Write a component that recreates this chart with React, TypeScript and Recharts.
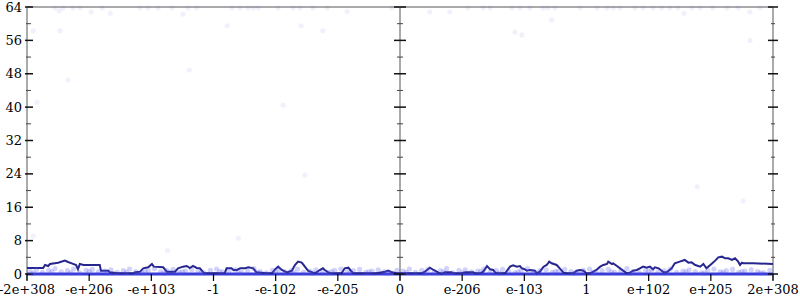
import React from 'react';
import { ComposedChart, Line, Scatter, XAxis, YAxis, ReferenceLine } from 'recharts';

const xTicks = [-6, -5, -4, -3, -2, -1, 0, 1, 2, 3, 4, 5, 6];
const xLabels = ['-2e+308', '-e+206', '-e+103', '-1', '-e-102', '-e-205', '0', 'e-206', 'e-103', '1', 'e+102', 'e+205', '2e+308'];
const yTicks = [0, 8, 16, 24, 32, 40, 48, 56, 64];
const yMinorTicks = [4, 12, 20, 28, 36, 44, 52, 60];
const axisPositions = [-6, 0, 6];

const trend: [number, number][] = [
  [-6.0, 1.44], [-5.74, 1.44], [-5.71, 2.16], [-5.66, 1.92], [-5.63, 2.4], [-5.5, 2.72], [-5.39, 3.2], [-5.34, 2.88],
  [-5.28, 2.56], [-5.21, 2.16], [-5.18, 1.12], [-5.15, 2.4], [-5.09, 2.16], [-4.83, 2.16], [-4.81, 0.8], [-4.69, 0.8],
  [-4.67, 0.4], [-4.53, 0.16], [-4.29, 0.16], [-4.26, 0.4], [-4.18, 0.56], [-4.13, 1.36], [-4.05, 1.6], [-3.99, 2.4],
  [-3.96, 1.76], [-3.81, 1.6], [-3.75, 0.56], [-3.62, 0.56], [-3.57, 1.36], [-3.49, 1.76], [-3.43, 1.92], [-3.38, 1.44],
  [-3.33, 1.92], [-3.27, 1.44], [-3.22, 1.36], [-3.15, 0.16], [-2.82, 0.16], [-2.79, 1.36], [-2.71, 1.36], [-2.68, 0.96],
  [-2.62, 0.96], [-2.57, 1.36], [-2.49, 1.36], [-2.44, 1.6], [-2.36, 1.36], [-2.31, 0.4], [-2.14, 0.16], [-2.06, 0.16],
  [-2.01, 1.12], [-1.96, 1.76], [-1.9, 0.96], [-1.82, 0.4], [-1.74, 0.8], [-1.69, 2.16], [-1.64, 2.96], [-1.58, 2.72],
  [-1.53, 1.76], [-1.48, 0.8], [-1.37, 0.16], [-1.29, 0.96], [-1.24, 1.36], [-1.21, 0.96], [-1.13, 0.16], [-0.94, 0.16],
  [-0.89, 1.36], [-0.83, 1.52], [-0.8, 0.96], [-0.75, 0.16], [-0.38, 0.16], [-0.24, 0.56], [-0.19, 0.8], [-0.13, 0.4],
  [-0.05, 0.16], [0, 0.16], [0.35, 0.16], [0.4, 0.56], [0.48, 1.52], [0.54, 0.96], [0.62, 0.32], [0.67, 0.05],
  [0.72, 0.4], [0.83, 0.4], [0.86, 0.16], [0.99, 0.16], [1.05, 0.4], [1.18, 0.4], [1.21, 0.16], [1.29, 0.16],
  [1.34, 0.56], [1.4, 1.92], [1.45, 1.12], [1.5, 0.96], [1.53, 0.4], [1.58, 0.16], [1.69, 0.16], [1.77, 1.76],
  [1.82, 2.08], [1.88, 1.76], [1.93, 1.92], [1.96, 1.36], [2.01, 1.12], [2.04, 0.8], [2.09, 0.96], [2.17, 0.8],
  [2.2, 0.16], [2.25, 0.56], [2.31, 1.76], [2.36, 2.16], [2.4, 2.96], [2.44, 2.56], [2.52, 2.16], [2.57, 1.36],
  [2.63, 0.32], [2.68, 0.16], [2.79, 0.16], [2.84, 0.8], [2.9, 0.96], [2.95, 0.8], [3.0, 0.16], [3.06, 0.16],
  [3.11, 0.56], [3.16, 0.96], [3.22, 1.76], [3.27, 2.16], [3.33, 2.4], [3.35, 2.96], [3.41, 2.4], [3.43, 2.56],
  [3.49, 1.92], [3.54, 1.36], [3.59, 0.8], [3.65, 0.16], [3.7, 0.32], [3.75, 0.8], [3.81, 0.96], [3.86, 1.36],
  [3.91, 1.76], [3.97, 1.52], [4.02, 1.76], [4.07, 1.12], [4.1, 1.6], [4.16, 1.36], [4.24, 0.4], [4.29, 0.4],
  [4.37, 1.36], [4.42, 2.56], [4.5, 2.96], [4.58, 3.36], [4.64, 2.72], [4.69, 2.8], [4.75, 2.16], [4.83, 1.76],
  [4.88, 2.4], [4.93, 1.36], [5.01, 2.4], [5.07, 3.2], [5.12, 4.0], [5.18, 4.16], [5.23, 3.76], [5.28, 3.76],
  [5.34, 3.36], [5.39, 3.76], [5.44, 2.96], [5.47, 2.16], [5.5, 2.72], [5.52, 2.56], [5.68, 2.56], [6.0, 2.4],
];

const bandPoints: [number, number][] = [
  [-5.95, 0.6], [-5.85, 1.1], [-5.75, 0.4], [-5.65, 0.9], [-5.55, 1.3], [-5.45, 0.5], [-5.35, 0.8], [-5.25, 1.2], [-5.15, 0.3], [-5.05, 0.9],
  [-4.95, 1.1], [-4.85, 0.5], [-4.75, 0.7], [-4.65, 1.0], [-4.55, 0.4], [-4.45, 0.8], [-4.35, 1.2], [-4.25, 0.6], [-4.15, 0.3], [-4.05, 0.9],
  [-3.95, 1.3], [-3.85, 0.5], [-3.75, 0.8], [-3.65, 1.1], [-3.55, 0.4], [-3.45, 0.7], [-3.35, 1.0], [-3.25, 0.6], [-3.15, 0.3], [-3.05, 0.9],
  [-2.95, 1.2], [-2.85, 0.5], [-2.75, 0.8], [-2.65, 1.0], [-2.55, 0.4], [-2.45, 0.7], [-2.35, 1.3], [-2.25, 0.6], [-2.15, 0.3], [-2.05, 0.9],
  [-1.95, 1.1], [-1.85, 0.5], [-1.75, 0.8], [-1.65, 1.2], [-1.55, 0.4], [-1.45, 0.7], [-1.35, 1.0], [-1.25, 0.6], [-1.15, 0.3], [-1.05, 0.9],
  [-0.95, 1.2], [-0.85, 0.5], [-0.75, 0.8], [-0.65, 1.1], [-0.55, 0.4], [-0.45, 0.7], [-0.35, 1.0], [-0.25, 0.6], [-0.15, 0.3], [-0.05, 0.9],
  [0.05, 0.7], [0.15, 1.2], [0.25, 0.4], [0.35, 0.9], [0.45, 1.1], [0.55, 0.5], [0.65, 0.8], [0.75, 1.3], [0.85, 0.3], [0.95, 0.9],
  [1.05, 1.0], [1.15, 0.5], [1.25, 0.7], [1.35, 1.2], [1.45, 0.4], [1.55, 0.8], [1.65, 1.1], [1.75, 0.6], [1.85, 0.3], [1.95, 0.9],
  [2.05, 1.3], [2.15, 0.5], [2.25, 0.8], [2.35, 1.0], [2.45, 0.4], [2.55, 0.7], [2.65, 1.1], [2.75, 0.6], [2.85, 0.3], [2.95, 0.9],
  [3.05, 1.2], [3.15, 0.5], [3.25, 0.8], [3.35, 1.1], [3.45, 0.4], [3.55, 0.7], [3.65, 1.3], [3.75, 0.6], [3.85, 0.3], [3.95, 0.9],
  [4.05, 1.1], [4.15, 0.5], [4.25, 0.8], [4.35, 1.2], [4.45, 0.4], [4.55, 0.7], [4.65, 1.0], [4.75, 0.6], [4.85, 0.3], [4.95, 0.9],
  [5.05, 1.2], [5.15, 0.5], [5.25, 0.8], [5.35, 1.1], [5.45, 0.4], [5.55, 0.7], [5.65, 1.0], [5.75, 0.6], [5.85, 0.3], [5.95, 0.9],
  [-5.9, 0.2], [-5.6, 0.5], [-5.3, 0.3], [-5.0, 0.6], [-4.7, 0.2], [-4.4, 0.4], [-4.1, 0.6], [-3.8, 0.2], [-3.5, 0.5], [-3.2, 0.3],
  [-2.9, 0.6], [-2.6, 0.2], [-2.3, 0.4], [-2.0, 0.5], [-1.7, 0.3], [-1.4, 0.2], [-1.1, 0.6], [-0.8, 0.3], [-0.5, 0.5], [-0.2, 0.2],
  [0.1, 0.4], [0.4, 0.2], [0.7, 0.5], [1.0, 0.3], [1.3, 0.6], [1.6, 0.2], [1.9, 0.5], [2.2, 0.3], [2.5, 0.6], [2.8, 0.2],
  [3.1, 0.4], [3.4, 0.5], [3.7, 0.2], [4.0, 0.6], [4.3, 0.3], [4.6, 0.5], [4.9, 0.2], [5.2, 0.4], [5.5, 0.6], [5.8, 0.3],
];

const zeroRun: [number, number][] = [[-6, 0], [6, 0]];

const sparsePoints: [number, number][] = [
  [-5.9, 58.3], [-5.47, 58.3], [-5.34, 46.5], [-5.84, 41.2], [-3.39, 48.9], [-5.55, 63.8], [-5.48, 63.1], [-5.42, 63.8],
  [-5.26, 63.8], [-5.15, 63.8], [-4.97, 62.8], [-4.79, 63.8], [-4.66, 62.5], [-4.18, 63.8], [-4.05, 63.8], [-3.89, 63.8],
  [-3.67, 63.8], [-3.49, 62.3], [-3.41, 63.8], [-3.27, 63.8], [-2.78, 59.5], [-2.7, 63.8], [-2.57, 63.8], [-2.44, 63.8],
  [-2.36, 63.8], [-2.28, 63.8], [-1.96, 63.8], [-1.72, 63.8], [-1.61, 63.8], [-1.59, 59.5], [-1.4, 63.8], [-1.24, 58.3],
  [-1.17, 63.8], [-0.85, 62.9], [-0.13, 63.8], [0.48, 62.8], [0.8, 62.8], [1.09, 63.8], [1.34, 63.8], [1.45, 63.8],
  [1.8, 63.8], [1.85, 58.0], [1.93, 63.8], [1.96, 57.3], [2.09, 63.8], [2.3, 63.8], [2.38, 63.8], [2.44, 60.9],
  [2.49, 63.8], [2.9, 63.8], [3.17, 63.8], [3.33, 63.8], [3.43, 63.8], [3.54, 63.8], [3.78, 63.8], [3.91, 63.8],
  [4.07, 63.8], [4.21, 63.8], [4.34, 63.8], [4.47, 63.8], [4.57, 62.5], [4.7, 63.8], [4.83, 63.8], [5.03, 63.8],
  [5.26, 63.8], [5.44, 63.8], [5.63, 62.8], [5.63, 56.0], [5.79, 63.8], [-1.88, 40.5], [-2.6, 8.6], [-5.9, 9.1],
  [-3.74, 5.6], [5.52, 17.5], [4.78, 20.9], [-1.53, 23.7],
];

const toPoints = (arr: [number, number][]) => arr.map(([x, y]) => ({ x, y }));

const FONT = { fontFamily: 'DejaVu Serif', fontSize: 13, fill: '#000' };

const makeTickShape = (major: boolean) => (props: any) => {
  const x1 = Math.min(props.x1, props.x2);
  const x2 = Math.max(props.x1, props.x2);
  const y = props.y1;
  const mid = (x1 + x2) / 2;
  const segs = major
    ? [[x1 - 2, x1 + 6], [mid - 6, mid + 6], [x2 - 5, x2 + 5]]
    : [[x1 - 1, x1 + 4], [mid - 3, mid + 3], [x2 - 2, x2 + 2]];
  return (
    <g>
      {segs.map(([a, b], i) => (
        <line key={i} x1={a} x2={b} y1={y} y2={y} stroke={major ? '#111' : '#444'} strokeWidth={major ? 1.5 : 1} />
      ))}
    </g>
  );
};

const axisShape = (props: any) => {
  const top = Math.min(props.y1, props.y2);
  const bottom = Math.max(props.y1, props.y2);
  return <line x1={props.x1} x2={props.x2} y1={top} y2={bottom + 6} stroke="#aaaaaa" strokeWidth={2} />;
};

const dot = (fill: string) => (props: any) => <circle cx={props.cx} cy={props.cy} r={2.6} fill={fill} />;

export default function App() {
  return (
    <div style={{ position: 'absolute', left: 0, top: 0, width: 800, height: 300, fontFamily: 'DejaVu Serif' }}>
      <ComposedChart width={800} height={300} margin={{ top: 7, right: 27, bottom: 0, left: 0 }} style={{ fontFamily: 'DejaVu Serif' }}>
        <XAxis
          dataKey="x"
          type="number"
          domain={[-6, 6]}
          ticks={xTicks}
          interval={0}
          tickFormatter={(v: number) => xLabels[xTicks.indexOf(v)]}
          axisLine={false}
          tickLine={{ stroke: '#000', strokeWidth: 1.2 }}
          tickSize={7}
          tickMargin={4}
          height={26}
          tick={FONT}
        />
        <YAxis
          dataKey="y"
          type="number"
          domain={[0, 64]}
          ticks={yTicks}
          interval={0}
          width={27}
          axisLine={false}
          tickLine={false}
          tickSize={0}
          tickMargin={5}
          tick={FONT}
        />
        <ReferenceLine y={64} stroke="#aaaaaa" strokeWidth={2} />
        {axisPositions.map((p) => (
          <ReferenceLine key={'ax' + p} x={p} shape={axisShape} />
        ))}
        <Scatter data={toPoints(sparsePoints)} dataKey="y" shape={dot('rgba(100,100,225,0.09)')} isAnimationActive={false} />
        <Scatter data={toPoints(bandPoints)} dataKey="y" shape={dot('rgba(80,80,235,0.26)')} isAnimationActive={false} />
        <Line data={toPoints(zeroRun)} dataKey="y" type="linear" stroke="#3b3bd9" strokeWidth={3} dot={false} isAnimationActive={false} />
        <Line data={toPoints(trend)} dataKey="y" type="linear" stroke="#26268e" strokeWidth={2} dot={false} isAnimationActive={false} />
        {yTicks.map((t) => (
          <ReferenceLine key={'mj' + t} y={t} shape={makeTickShape(true)} />
        ))}
        {yMinorTicks.map((t) => (
          <ReferenceLine key={'mn' + t} y={t} shape={makeTickShape(false)} />
        ))}
      </ComposedChart>
    </div>
  );
}
